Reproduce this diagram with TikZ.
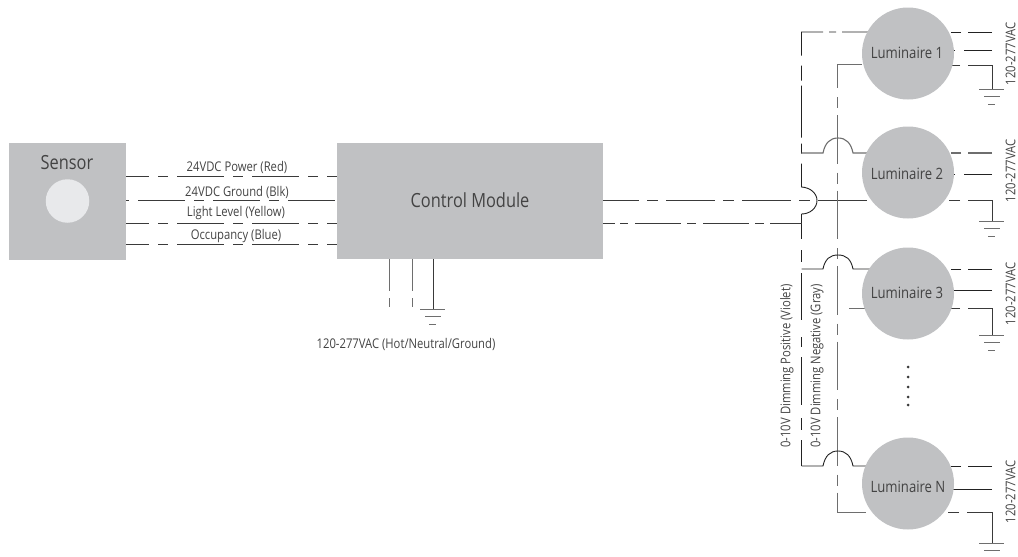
\documentclass[tikz,border=0pt]{standalone}
\usepackage{fontspec}
\setmainfont[FakeStretch=0.84]{Open Sans}
\usetikzlibrary{backgrounds}
\definecolor{boxgray}{HTML}{C0C1C3}
\definecolor{lensgray}{HTML}{E8E9EB}
\definecolor{wire}{HTML}{3A3A3A}
\definecolor{wiredark}{HTML}{222222}
\definecolor{wiregray}{HTML}{6E6E6E}
\definecolor{inktext}{HTML}{434343}
\tikzset{
  box/.style={draw=none,fill=boxgray,inner sep=0pt},
  lens/.style={circle,fill=lensgray,inner sep=0pt,minimum size=43.5pt},
  lum/.style={circle,fill=boxgray,inner sep=0pt,minimum size=92pt},
  title/.style={text=inktext,inner sep=0pt,font=\fontsize{19.5}{22}\selectfont},
  lumtext/.style={text=inktext,inner sep=0pt,font=\fontsize{15.6}{18}\selectfont},
  small/.style={text=inktext,inner sep=0pt,font=\fontsize{13.4}{15}\selectfont},
  dotm/.style={circle,fill=wire,inner sep=0pt,minimum size=3pt},
  wireline/.style={draw=wire,line width=0.9pt},
  darkline/.style={draw=wiredark,line width=0.9pt},
  grayline/.style={draw=wiregray,line width=1.1pt},
  sensorwire/.style={wireline,dash pattern=on 47pt off 9pt on 10pt off 9pt},
  mainwire/.style={wireline,dash pattern=on 49pt off 8pt on 11pt off 8pt},
  rightdash/.style={dash pattern=on 24pt off 7pt on 10pt off 10pt on 40pt},
  gnddash/.style={dash pattern=on #1pt off 8pt on 11pt off 100pt},
  gnd/.pic={
    \draw[grayline,line width=0.9pt] (-13,0) -- (12,0) (-8,7.5) -- (8,7.5) (-4,15) -- (3,15);
  }
}
\begin{document}
\begin{tikzpicture}[x=1pt,y=-1pt]
\useasboundingbox (0,0) rectangle (1018,557);
% boxes
\node[box,minimum width=117pt,minimum height=117pt] (sensor) at (67.5,201.5) {};
\node[lens] (lensc) at (67.5,201) {};
\node[title] (sensortext) at (67,163) {Sensor};
\node[box,minimum width=266pt,minimum height=116pt] (module) at (470,201) {};
\node[title] (moduletext) at (470,200) {Control Module};
% luminaires
\node[lum] (L1) at (908,53.5) {};
\node[lum] (L2) at (908,172.5) {};
\node[lum] (L3) at (908,293.5) {};
\node[lum] (LN) at (908,483.5) {};
\node[lumtext] (L1t) at (907,53) {Luminaire 1};
\node[lumtext] (L2t) at (907,174) {Luminaire 2};
\node[lumtext] (L3t) at (907,293) {Luminaire 3};
\node[lumtext] (LNt) at (908,487) {Luminaire N};
% labels
\node[small] (p1) at (237,167) {24VDC Power (Red)};
\node[small] (p2) at (237,192) {24VDC Ground (Blk)};
\node[small] (p3) at (236,213) {Light Level (Yellow)};
\node[small] (p4) at (236,236) {Occupancy (Blue)};
\node[small] (acin) at (406,344) {120-277VAC (Hot/Neutral/Ground)};
\node[small,rotate=90] (dpos) at (787,366) {0-10V Dimming Positive (Violet)};
\node[small,rotate=90] (dneg) at (817,366) {0-10V Dimming Negative (Gray)};
\node[small,rotate=90] (v1) at (1010.5,54) {120-277VAC};
\node[small,rotate=90] (v2) at (1010.5,171) {120-277VAC};
\node[small,rotate=90] (v3) at (1010.5,294) {120-277VAC};
\node[small,rotate=90] (v4) at (1010.5,492) {120-277VAC};
% ellipsis dots
\foreach \i/\y in {1/367,2/377,3/387,4/397,5/405}
  \node[dotm] (dot\i) at (908,\y) {};
% ground positions
\coordinate (g0) at (433,309);
\coordinate (g1) at (992,89);
\coordinate (g2) at (992,221);
\coordinate (g3) at (992,335);
\coordinate (g4) at (992,543);
\pic at (g0) {gnd};
\pic at (g1) {gnd};
\pic at (g2) {gnd};
\pic at (g3) {gnd};
\pic at (g4) {gnd};
\coordinate (h1) at (389,307);
\coordinate (h2) at (412,307);
\coordinate (r1a) at (992,32);
\coordinate (r1b) at (992,50);
\coordinate (r2a) at (992,153);
\coordinate (r2b) at (992,174);
\coordinate (r3a) at (992,269);
\coordinate (r3b) at (992,290);
\coordinate (r4a) at (992,466);
\coordinate (r4b) at (992,489);
\coordinate (vp) at (801.5,214);
\begin{scope}[on background layer]
  % sensor to module
  \draw[sensorwire,dash phase=24pt] (sensor.east |- 0,176) -- (module.west |- 0,176);
  \draw[sensorwire,dash phase=63pt] (sensor.east |- 0,200) -- (module.west |- 0,200);
  \draw[sensorwire,dash phase=24pt] (sensor.east |- 0,223) -- (module.west |- 0,223);
  \draw[sensorwire,dash phase=24pt] (sensor.east |- 0,244) -- (module.west |- 0,244);
  % mains to module
  \draw[grayline,line width=0.9pt,dash pattern=on 32pt off 7pt on 9pt off 10pt] (module.south -| h1) -- (h1);
  \draw[grayline,line width=0.9pt,dash pattern=on 32pt off 7pt on 9pt off 10pt] (module.south -| h2) -- (h2);
  \draw[wireline] (module.south -| g0) -- (g0);
  % module to lights, top wire passes through the jump
  \draw[mainwire,dash phase=13pt] (module.east |- 0,200) -- (L2.center |- 0,200);
  % negative trunk
  \draw[grayline,line width=0.9pt,dash pattern=on 48.5pt off 9pt on 11pt off 7pt,dash phase=29.5pt]
     (L1.center |- 0,64.5) -- (837,64.5) -- (837,512) -- (LN.center |- 0,512);
  \draw[grayline,line width=0.9pt,dash pattern=on 0pt off 12pt on 100pt] (837,308) -- (L3.center |- 0,308);
  % positive trunk, upper run with the jump
  \draw[darkline,dash pattern=on 66pt off 6pt on 7pt off 6pt on 45pt off 10pt on 15pt off 5pt on 52pt off 6pt on 10pt off 10pt on 100pt]
     (L1.center |- 0,32) -- (801.5,32) -- (801.5,187)
     .. controls (810,187.5) and (817,193) .. (817,200.5)
     .. controls (817,208) and (810,214) .. (vp);
  % positive trunk, lower run
  \draw[darkline,dash pattern=on 25pt off 11pt on 12pt off 11pt on 47pt off 17pt on 10pt off 10pt on 48pt off 13pt on 12pt off 10pt on 30pt]
     (vp) -- (801.5,466);
  % control negative to module
  \draw[wireline,dash pattern=on 12pt off 5pt on 8pt off 7pt on 46pt off 6pt on 9pt off 7pt on 46pt off 6pt on 9pt off 6pt on 40pt]
     (module.east |- 0,223) -- (801.5,223);
  % branch jumps
  \draw[grayline] (801.5,153) -- (823,153) .. controls (825,143) and (830,138) .. (838,138)
     .. controls (846,138) and (851,143) .. (853,153) -- (L2.center |- 0,153);
  \draw[darkline] (801.5,269) -- (823,269) .. controls (825,259) and (830,255) .. (838,255)
     .. controls (846,255) and (851,259) .. (853,269) -- (L3.center |- 0,269);
  \draw[darkline] (801.5,466) -- (823,466) .. controls (825,456) and (830,451) .. (838,451)
     .. controls (846,451) and (851,456) .. (853,466) -- (LN.center |- 0,466);
  % line side wires
  \draw[darkline,rightdash] (r1a) -- (L1.center |- r1a);
  \draw[darkline,dash pattern=on 28pt off 9pt on 20pt] (r1b) -- (L1.center |- r1b);
  \draw[wireline,gnddash=48] (g1) -- (992,65) -- (L1.center |- 0,65);
  \draw[grayline,rightdash] (r2a) -- (L2.center |- r2a);
  \draw[darkline,dash pattern=on 28pt off 9pt on 20pt] (r2b) -- (L2.center |- r2b);
  \draw[wireline,gnddash=45] (g2) -- (992,200) -- (L2.center |- 0,200);
  \draw[darkline,rightdash] (r3a) -- (L3.center |- r3a);
  \draw[darkline] (r3b) -- (L3.center |- r3b);
  \draw[wireline,gnddash=51] (g3) -- (992,308) -- (L3.center |- 0,308);
  \draw[darkline,rightdash] (r4a) -- (LN.center |- r4a);
  \draw[darkline] (r4b) -- (LN.center |- r4b);
  \draw[wireline,gnddash=56] (g4) -- (992,512) -- (LN.center |- 0,512);
\end{scope}
\end{tikzpicture}
\end{document}
